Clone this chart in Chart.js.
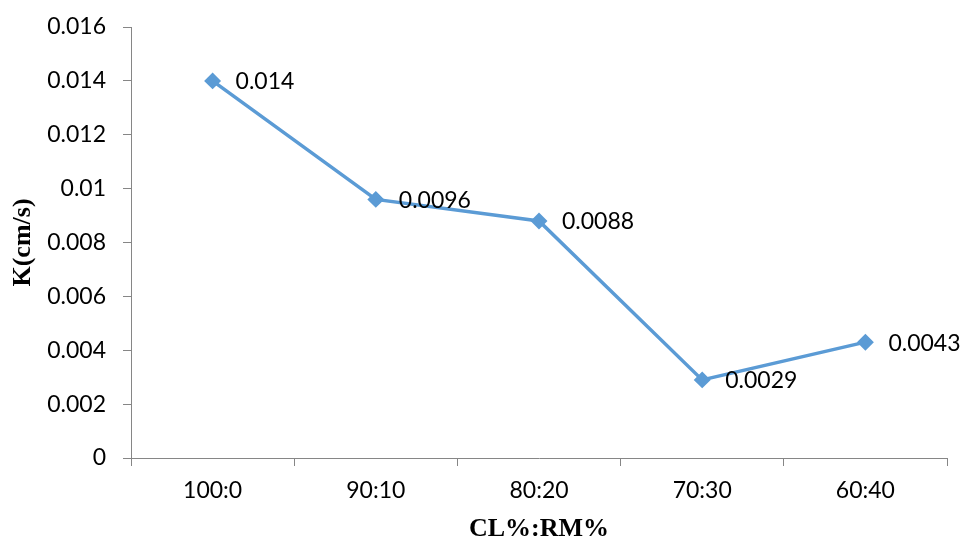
<!DOCTYPE html>
<html>
<head>
<meta charset="utf-8">
<script src="https://cdn.jsdelivr.net/npm/chart.js@4"></script>
<style>
  html, body { margin: 0; padding: 0; background: #ffffff; }
  #wrap { width: 965px; height: 545px; }
</style>
</head>
<body>
<div id="wrap"><canvas id="c" width="965" height="545"></canvas></div>
<script>
// Mix ratio (clay % : red mud %) and measured permeability K
const categories = ['100:0', '90:10', '80:20', '70:30', '60:40'];
const kValues = [0.014, 0.0096, 0.0088, 0.0029, 0.0043];
const kLabels = ['0.014', '0.0096', '0.0088', '0.0029', '0.0043'];

const LINE_BLUE = '#5B9BD5';
const AXIS_GREY = '#868686';
const TICK_FONT = { family: 'Lato, "Open Sans", sans-serif', size: 23 };
const TITLE_FONT = { family: '"Liberation Serif", "Times New Roman", serif', size: 26, weight: 'bold' };

// Value labels written just to the right of each marker
const pointLabels = {
  id: 'pointLabels',
  afterDatasetsDraw(chart) {
    const ctx = chart.ctx;
    const meta = chart.getDatasetMeta(0);
    ctx.save();
    ctx.font = `${TICK_FONT.size}px ${TICK_FONT.family}`;
    ctx.fillStyle = '#000000';
    ctx.textAlign = 'left';
    ctx.textBaseline = 'middle';
    meta.data.forEach((pt, i) => {
      ctx.fillText(kLabels[i], pt.x + 23, pt.y + 1);
    });
    ctx.restore();
  }
};

new Chart(document.getElementById('c'), {
  type: 'line',
  data: {
    labels: categories,
    datasets: [{
      data: kValues,
      borderColor: LINE_BLUE,
      backgroundColor: LINE_BLUE,
      borderWidth: 3.5,
      pointStyle: 'rectRot',
      pointRadius: 6,
      pointHoverRadius: 6,
      pointBackgroundColor: LINE_BLUE,
      pointBorderColor: LINE_BLUE,
      tension: 0,
      fill: false
    }]
  },
  options: {
    responsive: false,
    devicePixelRatio: 1,
    animation: false,
    events: [],
    layout: { padding: { left: 0, right: 18, top: 27, bottom: 0 } },
    plugins: {
      legend: { display: false },
      tooltip: { enabled: false }
    },
    scales: {
      x: {
        type: 'category',
        offset: true,
        grid: {
          offset: true,
          drawOnChartArea: false,
          drawTicks: true,
          tickLength: 8,
          tickColor: AXIS_GREY,
          lineWidth: 1
        },
        border: { display: true, color: AXIS_GREY, width: 1 },
        ticks: { color: '#000000', font: TICK_FONT, padding: 11, maxRotation: 0, autoSkip: false },
        title: {
          display: true,
          text: 'CL%:RM%',
          color: '#000000',
          font: TITLE_FONT,
          padding: { top: 0, bottom: 0 }
        },
        afterFit(scale) {
          scale.height = 87;
          scale.paddingLeft = 0;
          scale.paddingRight = 0;
        }
      },
      y: {
        min: 0,
        max: 0.016,
        ticks: {
          stepSize: 0.002,
          color: '#000000',
          font: TICK_FONT,
          padding: 17,
          callback: (v) => (Math.abs(v) < 1e-12 ? '0' : String(parseFloat(v.toFixed(4))))
        },
        grid: {
          drawOnChartArea: false,
          drawTicks: true,
          tickLength: 8,
          tickColor: AXIS_GREY,
          lineWidth: 1
        },
        border: { display: true, color: AXIS_GREY, width: 1 },
        title: {
          display: true,
          text: 'K(cm/s)',
          color: '#000000',
          font: TITLE_FONT,
          padding: { top: 8, bottom: 0 }
        },
        afterFit(scale) {
          scale.width = 131;
          scale.paddingTop = 0;
          scale.paddingBottom = 0;
        }
      }
    }
  },
  plugins: [pointLabels]
});
</script>
</body>
</html>
